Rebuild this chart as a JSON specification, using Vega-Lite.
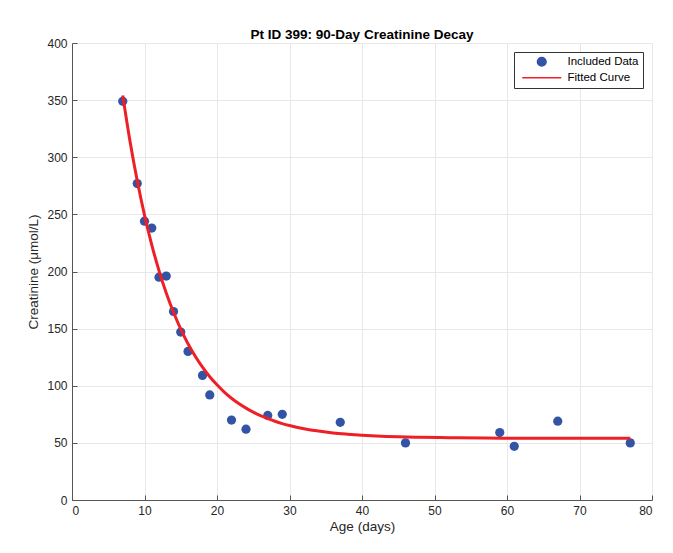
{
  "$schema": "https://vega.github.io/schema/vega-lite/v6.json",
  "width": 580,
  "height": 457,
  "autosize": {"type": "none"},
  "padding": {"left": 72, "top": 43, "right": 21, "bottom": 53},
  "background": "white",
  "title": {"text": "Pt ID 399: 90-Day Creatinine Decay", "font": "Liberation Sans", "fontSize": 13.5, "fontWeight": "bold", "color": "black", "offset": -4, "anchor": "middle"},
  "datasets": {
    "points": [
      {"age": 7, "creat": 349, "series": "Included Data"},
      {"age": 9, "creat": 277, "series": "Included Data"},
      {"age": 10, "creat": 244, "series": "Included Data"},
      {"age": 11, "creat": 238, "series": "Included Data"},
      {"age": 12, "creat": 195, "series": "Included Data"},
      {"age": 13, "creat": 196, "series": "Included Data"},
      {"age": 14, "creat": 165, "series": "Included Data"},
      {"age": 15, "creat": 147, "series": "Included Data"},
      {"age": 16, "creat": 130, "series": "Included Data"},
      {"age": 18, "creat": 109, "series": "Included Data"},
      {"age": 19, "creat": 92, "series": "Included Data"},
      {"age": 22, "creat": 70, "series": "Included Data"},
      {"age": 24, "creat": 62, "series": "Included Data"},
      {"age": 27, "creat": 74, "series": "Included Data"},
      {"age": 29, "creat": 75, "series": "Included Data"},
      {"age": 37, "creat": 68, "series": "Included Data"},
      {"age": 46, "creat": 50, "series": "Included Data"},
      {"age": 59, "creat": 59, "series": "Included Data"},
      {"age": 61, "creat": 47, "series": "Included Data"},
      {"age": 67, "creat": 69, "series": "Included Data"},
      {"age": 77, "creat": 50, "series": "Included Data"}
    ],
    "curve": [
      {"age": 7, "creat": 354, "series": "Fitted Curve"},
      {"age": 8, "creat": 314.0, "series": "Fitted Curve"},
      {"age": 9, "creat": 279.4, "series": "Fitted Curve"},
      {"age": 10, "creat": 249.3, "series": "Fitted Curve"},
      {"age": 11, "creat": 223.3, "series": "Fitted Curve"},
      {"age": 12, "creat": 200.8, "series": "Fitted Curve"},
      {"age": 13, "creat": 181.2, "series": "Fitted Curve"},
      {"age": 14, "creat": 164.3, "series": "Fitted Curve"},
      {"age": 15, "creat": 149.6, "series": "Fitted Curve"},
      {"age": 16, "creat": 136.8, "series": "Fitted Curve"},
      {"age": 17, "creat": 125.8, "series": "Fitted Curve"},
      {"age": 18, "creat": 116.2, "series": "Fitted Curve"},
      {"age": 19, "creat": 107.9, "series": "Fitted Curve"},
      {"age": 20, "creat": 100.8, "series": "Fitted Curve"},
      {"age": 21, "creat": 94.5, "series": "Fitted Curve"},
      {"age": 22, "creat": 89.1, "series": "Fitted Curve"},
      {"age": 23, "creat": 84.4, "series": "Fitted Curve"},
      {"age": 24, "creat": 80.4, "series": "Fitted Curve"},
      {"age": 25, "creat": 76.9, "series": "Fitted Curve"},
      {"age": 26, "creat": 73.8, "series": "Fitted Curve"},
      {"age": 27, "creat": 71.2, "series": "Fitted Curve"},
      {"age": 28, "creat": 68.9, "series": "Fitted Curve"},
      {"age": 29, "creat": 66.9, "series": "Fitted Curve"},
      {"age": 30, "creat": 65.2, "series": "Fitted Curve"},
      {"age": 32, "creat": 62.4, "series": "Fitted Curve"},
      {"age": 34, "creat": 60.3, "series": "Fitted Curve"},
      {"age": 36, "creat": 58.7, "series": "Fitted Curve"},
      {"age": 38, "creat": 57.6, "series": "Fitted Curve"},
      {"age": 40, "creat": 56.7, "series": "Fitted Curve"},
      {"age": 42, "creat": 56.0, "series": "Fitted Curve"},
      {"age": 45, "creat": 55.3, "series": "Fitted Curve"},
      {"age": 48, "creat": 54.9, "series": "Fitted Curve"},
      {"age": 52, "creat": 54.5, "series": "Fitted Curve"},
      {"age": 57, "creat": 54.2, "series": "Fitted Curve"},
      {"age": 62, "creat": 54.1, "series": "Fitted Curve"},
      {"age": 69, "creat": 54.0, "series": "Fitted Curve"},
      {"age": 77, "creat": 54.0, "series": "Fitted Curve"}
    ]
  },
  "layer": [
    {
      "data": {"name": "points"},
      "mark": {"type": "point", "filled": true, "size": 85, "opacity": 1},
      "encoding": {
        "x": {"field": "age", "type": "quantitative", "scale": {"domain": [0, 80], "nice": false}, "axis": {"title": "Age (days)", "values": [0, 10, 20, 30, 40, 50, 60, 70, 80]}},
        "y": {"field": "creat", "type": "quantitative", "scale": {"domain": [0, 400], "nice": false}, "axis": {"title": "Creatinine (μmol/L)", "values": [0, 50, 100, 150, 200, 250, 300, 350, 400]}},
        "color": {
          "field": "series", "type": "nominal",
          "scale": {"domain": ["Included Data", "Fitted Curve"], "range": ["#3353a4", "#ee1f26"]},
          "legend": {
            "title": null,
            "encode": {"symbols": {"update": {
              "stroke": {"signal": "datum.value === 'Fitted Curve' ? '#ee1f26' : null"},
              "strokeWidth": {"value": 2.5}
            }}}
          }
        },
        "shape": {
          "field": "series", "type": "nominal",
          "scale": {"domain": ["Included Data", "Fitted Curve"], "range": ["circle", "M-4.5,0H4.5"]},
          "legend": {"title": null}
        }
      }
    },
    {
      "data": {"name": "curve"},
      "mark": {"type": "line", "strokeWidth": 3, "interpolate": "monotone"},
      "encoding": {
        "x": {"field": "age", "type": "quantitative"},
        "y": {"field": "creat", "type": "quantitative"},
        "color": {"field": "series", "type": "nominal"}
      }
    }
  ],
  "config": {
    "view": {"stroke": null},
    "axis": {
      "labelFont": "Liberation Sans", "labelFontSize": 12, "labelColor": "#262626",
      "titleFont": "Liberation Sans", "titleFontSize": 13.5, "titleFontWeight": "normal", "titleColor": "#262626",
      "domainColor": "#555555", "domainWidth": 1,
      "tickColor": "#555555", "tickSize": -5, "labelPadding": 10,
      "gridColor": "#e8e8e8", "gridWidth": 1
    },
    "axisX": {"titlePadding": 3},
    "axisY": {"titlePadding": 6},
    "legend": {
      "orient": "top-right", "offset": 9, "padding": 4,
      "strokeColor": "#333333", "fillColor": "white",
      "labelFont": "Liberation Sans", "labelFontSize": 11.5, "labelColor": "black",
      "symbolSize": 75, "rowPadding": 1, "labelOffset": 20, "symbolOffset": 18
    }
  }
}
